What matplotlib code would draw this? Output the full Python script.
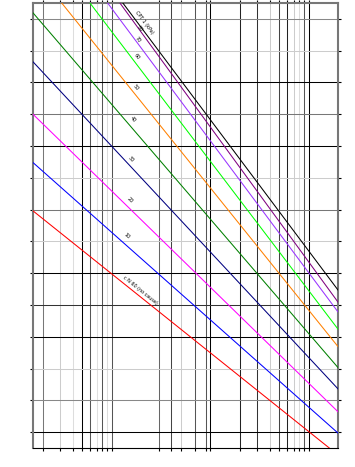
import numpy as np
import matplotlib
matplotlib.use("Agg")
import matplotlib.pyplot as plt

# each curve: two end points (x on log scale, y linear)
colors = ["black", "#800080", "#9933ff", "#00ff00", "#ff8000",
          "#008000", "#000080", "#ff00ff", "#0000ff", "#ff0000"]
x_start = [12.9, 12.05, 9.04, 5.98, 3.09, 1.58, 1.58, 1.58, 1.58, 1.58]
y_start = [14.0, 14.0, 14.0, 14.0, 14.0, 13.69, 12.15, 10.50, 8.98, 7.46]
x_end = [1970, 1970, 1970, 1970, 1970, 1970, 1970, 1970, 1970, 1607]
y_end = [4.97, 4.59, 4.28, 3.74, 3.19, 2.53, 1.86, 1.14, 0.47, 0.0]

labels = ["CPT 1 (kPa)", "80", "70", "60", "50", "40", "30", "20", "10",
          "c N 60 (no cause)"]
label_x = [21.1, 19.2, 18.4, 17.9, 17.5, 16.3, 15.6, 15.2, 14.2, 19.2]
label_y = [13.4, 13.18, 12.86, 12.30, 11.35, 10.35, 9.09, 7.80, 6.67, 4.97]

# grid lines and their shades
vgrid = [2, 3, 4, 5, 6, 7, 8, 9, 10, 30, 40, 50, 70, 90, 100,
         200, 300, 400, 500, 600, 700, 800, 900, 1000]
vgrid_col = ["#777", "#ccc", "#ddd", "#000", "#555", "#e0e0e0", "#555", "#ddd", "#555",
             "#666", "#444", "#ccc", "#555", "#555", "#000",
             "#222", "#333", "#ccc", "#444", "#222", "#ccc", "#ddd", "#555", "#000"]
hgrid = [0.5, 1.5, 2.5, 3.5, 4.5, 5.5, 6.5, 7.5, 8.5, 9.5, 10.5, 11.5, 12.5, 13.5]
hgrid_col = ["#000", "#888", "#ccc", "#000", "#333", "#000", "#ccc",
             "#777", "#ccc", "#000", "#777", "#000", "#ccc", "#888"]

fig = plt.figure(figsize=(3.55, 4.67), dpi=100)
ax = fig.add_axes([33/355, 19/467, 305/355, 445/467])
ax.set_xscale("log")
ax.set_xlim(1.58, 1970)
ax.set_ylim(0, 14)

for v, c in zip(vgrid, vgrid_col):
    ax.axvline(v, color=c, lw=0.75, zorder=1)
for h, c in zip(hgrid, hgrid_col):
    ax.axhline(h, color=c, lw=0.75, zorder=1)

for i in range(len(colors)):
    ax.plot([x_start[i], x_end[i]], [y_start[i], y_end[i]], color=colors[i], lw=0.75, zorder=3)

fig.canvas.draw()
for i in range(len(labels)):
    p0 = ax.transData.transform((x_start[i], y_start[i]))
    p1 = ax.transData.transform((x_end[i], y_end[i]))
    ang = np.degrees(np.arctan2(p1[1] - p0[1], p1[0] - p0[0]))
    ax.text(label_x[i], label_y[i], labels[i], fontsize=3.5, rotation=ang,
            rotation_mode="anchor", ha="center", va="center", zorder=4)

ax.set_xticks(vgrid)
ax.set_xticks([], minor=True)
ax.set_yticks(hgrid)
ax.set_xticklabels([])
ax.set_yticklabels([])
ax.tick_params(which="both", direction="out", length=2, width=0.8,
               top=True, right=True, color="black")
for s in ["left", "right", "top"]:
    ax.spines[s].set_color("#777")
    ax.spines[s].set_linewidth(1.5)
ax.spines["bottom"].set_color("black")

fig.savefig("out.png", dpi=100)
